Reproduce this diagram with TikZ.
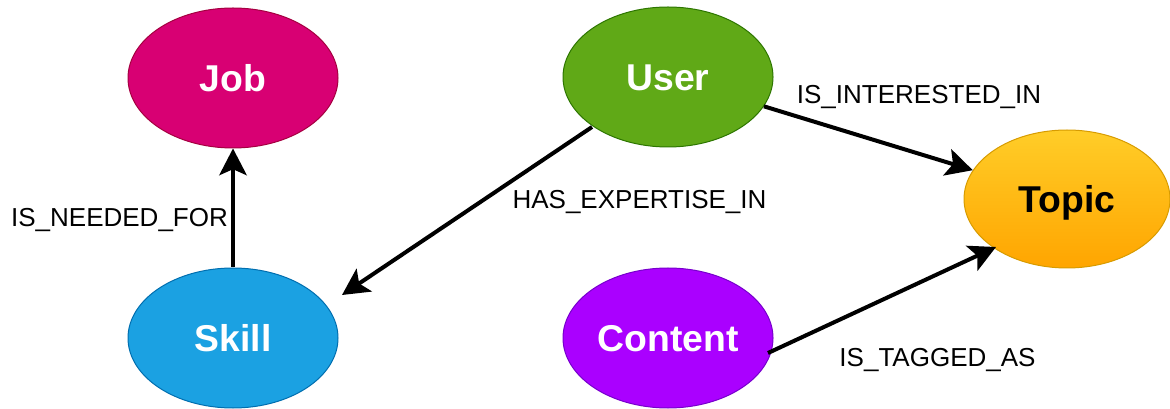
\documentclass[tikz,border=0pt]{standalone}
\usepackage{fontspec}
\setmainfont{Liberation Sans}
\usetikzlibrary{shapes.geometric,arrows.meta,calc}

\definecolor{jobfill}{HTML}{D80073}
\definecolor{jobline}{HTML}{A50040}
\definecolor{userfill}{HTML}{60A917}
\definecolor{userline}{HTML}{2D7600}
\definecolor{skillfill}{HTML}{1BA1E2}
\definecolor{skillline}{HTML}{006EAF}
\definecolor{contentfill}{HTML}{AA00FF}
\definecolor{contentline}{HTML}{7700CC}
\definecolor{topictop}{HTML}{FFCD28}
\definecolor{topicbottom}{HTML}{FFA500}
\definecolor{topicline}{HTML}{D79B00}

\begin{document}
\begin{tikzpicture}[x=0.75pt,y=-0.75pt,
  entity/.style={ellipse, draw, line width=0.75pt,
    minimum width=157.5pt, minimum height=105pt, inner sep=0pt,
    font=\fontsize{28}{32}\selectfont\bfseries,
    text height=20pt, text depth=0pt},
  rel/.style={line width=3pt,
    -{Stealth[length=20pt,width=20.5pt,inset=4.5pt]}},
  lbl/.style={anchor=base, inner sep=0pt,
    font=\fontsize{19.5}{23}\selectfont}]
\useasboundingbox (0,0) rectangle (1170,409);

% entities
\node[entity, fill=jobfill, draw=jobline, text=white] (job) at (233,78) {Job};
\node[entity, fill=userfill, draw=userline, text=white] (user) at (668,77) {User};
\node[entity, top color=topictop, bottom color=topicbottom, draw=topicline,
      minimum width=154.5pt, minimum height=103.5pt] (topic) at (1067,199) {Topic};
\node[entity, fill=skillfill, draw=skillline, text=white] (skill) at (233,338) {Skill};
\node[entity, fill=contentfill, draw=contentline, text=white] (content) at (668,338) {Content};

% relationships
\draw[rel] (skill) -- (job);
\draw[rel] ($(user.center)+(-76,50)$) -- ($(skill.center)+(109,-43)$);
\draw[rel] (user) -- (topic);
\draw[rel] ($(content.center)+(100,15)$) -- ($(topic.center)+(-71,48)$);

% relationship labels
\node[lbl] (lneed) at (119.5,227) {IS\_NEEDED\_FOR};
\node[lbl] (lexp) at (639.5,209) {HAS\_EXPERTISE\_IN};
\node[lbl] (lint) at (919,104) {IS\_INTERESTED\_IN};
\node[lbl] (ltag) at (937.5,367) {IS\_TAGGED\_AS};
\end{tikzpicture}
\end{document}
